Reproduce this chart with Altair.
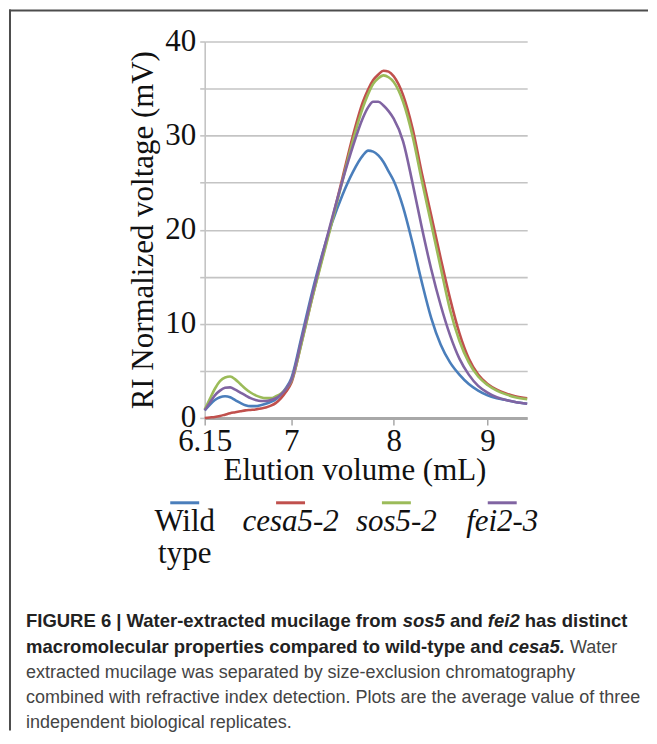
import altair as alt
import pandas as pd

# Elution volume grid (mL)
volume = [6.15, 6.2, 6.25, 6.3, 6.35, 6.4, 6.45, 6.5, 6.55, 6.6, 6.65, 6.7, 6.75, 6.8, 6.85, 6.9, 6.95, 7.0,
          7.1, 7.2, 7.3, 7.4, 7.5, 7.6, 7.7, 7.75, 7.8, 7.85, 7.9, 7.95, 8.0,
          8.1, 8.2, 8.3, 8.4, 8.5, 8.6, 8.7, 8.8, 8.9, 9.0, 9.1, 9.2, 9.3, 9.43]

wild_type = [0.8, 1.4, 1.9, 2.2, 2.3, 2.2, 1.9, 1.6, 1.35, 1.25, 1.25, 1.35, 1.5, 1.7, 2.0, 2.5, 3.2, 4.2,
             8.6, 13.2, 17.3, 20.8, 23.7, 26.1, 27.9, 28.4, 28.3, 27.9, 27.2, 26.2, 25.2,
             22.4, 18.6, 14.4, 10.6, 7.8, 5.9, 4.6, 3.6, 2.9, 2.4, 2.1, 1.9, 1.7, 1.5]

cesa5_2 = [0.0, 0.05, 0.1, 0.2, 0.35, 0.5, 0.6, 0.7, 0.8, 0.85, 0.9, 1.0, 1.1, 1.3, 1.6, 2.1, 2.8, 3.7,
           8.0, 12.6, 16.9, 21.1, 25.5, 29.9, 33.6, 34.9, 35.9, 36.5, 36.9, 36.8, 36.3,
           34.3, 30.8, 26.0, 21.5, 17.0, 12.7, 9.0, 6.3, 4.6, 3.6, 3.0, 2.6, 2.3, 2.1]

sos5_2 = [0.9, 2.0, 3.1, 3.9, 4.3, 4.4, 4.1, 3.6, 3.1, 2.7, 2.4, 2.2, 2.1, 2.1, 2.3, 2.6, 3.1, 3.9,
          7.9, 12.5, 16.7, 20.9, 25.2, 29.4, 33.0, 34.4, 35.5, 36.1, 36.4, 36.2, 35.7,
          33.6, 30.0, 25.2, 20.6, 16.0, 11.5, 8.2, 5.9, 4.4, 3.5, 2.9, 2.5, 2.2, 2.0]

fei2_3 = [0.8, 1.6, 2.4, 2.9, 3.2, 3.25, 3.0, 2.7, 2.4, 2.1, 1.9, 1.8, 1.8, 1.9, 2.1, 2.5, 3.1, 4.0,
          8.3, 12.9, 17.2, 21.3, 25.2, 28.8, 31.9, 33.0, 33.6, 33.6, 33.2, 32.6, 31.8,
          29.4, 25.0, 20.2, 15.8, 12.0, 8.8, 6.3, 4.6, 3.4, 2.7, 2.2, 1.9, 1.7, 1.5]

series_names = ["Wild type", "cesa5-2", "sos5-2", "fei2-3"]
legend_labels = ["Wild\ntype", "cesa5-2", "sos5-2", "fei2-3"]
colors = ["#4a7ebb", "#c0504d", "#9bbb59", "#8064a2"]

x_ticks = [6.15, 7, 8, 9]
y_ticks = [0, 5, 10, 15, 20, 25, 30, 35, 40]

caption_lines = [
    "FIGURE 6 | Water-extracted mucilage from ",
    "sos5",
    "and",
    "fei2",
    "has distinct",
    "macromolecular properties compared to wild-type and ",
    "cesa5.",
    "Water",
    "extracted mucilage was separated by size-exclusion chromatography",
    "combined with refractive index detection. Plots are the average value of three",
    "independent biological replicates.",
]

rows = []
for name, vals in zip(series_names, [wild_type, cesa5_2, sos5_2, fei2_3]):
    for v, y in zip(volume, vals):
        rows.append({"series": name, "volume": v, "voltage": y})
df = pd.DataFrame(rows)

SERIF = "Liberation Serif"
SANS = "Liberation Sans"
GRID = "#c4c4c4"

color_scale = alt.Scale(domain=series_names, range=colors)

lines = alt.Chart(df).mark_line(strokeWidth=2.6, interpolate="monotone").encode(
    x=alt.X("volume:Q",
            scale=alt.Scale(domain=[6.15, 7, 8, 9, 9.43], range=[0, 86.7, 189.3, 283.3, 323], nice=False, zero=False),
            axis=alt.Axis(values=x_ticks, format=".2~f", grid=False, domainColor="#a8a8a8", domainWidth=3,
                          tickColor="#a8a8a8", tickWidth=1.5, tickSize=7, labelFont=SERIF, labelFontSize=31,
                          labelColor="#111111", labelPadding=2, labelFlush=False, labelOverlap=False,
                          title="Elution volume (mL)", titleFont=SERIF, titleFontSize=31, titleFontWeight="normal",
                          titleColor="#111111", titleX=150, titleY=62, titleBaseline="alphabetic",
                          titleAlign="center", zindex=0)),
    y=alt.Y("voltage:Q",
            scale=alt.Scale(domain=[0, 40], nice=False),
            axis=alt.Axis(values=y_ticks, labelExpr="datum.value % 10 == 0 ? datum.label : ''",
                          grid=True, gridColor=GRID, gridWidth=1.6, domainColor=GRID, domainWidth=1.6,
                          tickColor=GRID, tickWidth=1.6, tickSize=5, labelPadding=4, labelFont=SERIF,
                          labelFontSize=31, labelColor="#111111", labelBaseline="middle",
                          title="RI Normalized voltage (mV)", titleFont=SERIF, titleFontSize=31,
                          titleFontWeight="normal", titleColor="#111111", titleAngle=270, titleX=-52,
                          titleY=188.5, titleBaseline="alphabetic", titleAlign="center", zindex=0)),
    color=alt.Color("series:N", scale=color_scale, legend=None),
)

legend_df = pd.DataFrame({"series": series_names, "label": legend_labels})
leg_x = alt.X("series:N", scale=alt.Scale(type="point", domain=series_names, range=[-20, 298], padding=0),
              axis=None)

leg_sym = alt.Chart(legend_df).mark_point(shape="M-1,0L1,0", size=841, filled=False, strokeWidth=3,
                                          opacity=1).encode(
    x=leg_x, y=alt.value(462), color=alt.Color("series:N", scale=color_scale, legend=None))

leg_wt = alt.Chart(legend_df).transform_filter(alt.datum.series == "Wild type").mark_text(
    font=SERIF, fontSize=31, lineBreak="\n", lineHeight=32, baseline="alphabetic", align="center",
    color="#111111").encode(x=leg_x, y=alt.value(490.5), text="label:N")

leg_mut = alt.Chart(legend_df).transform_filter(alt.datum.series != "Wild type").mark_text(
    font=SERIF, fontSize=31, fontStyle="italic", baseline="alphabetic", align="center",
    color="#111111").encode(x=leg_x, y=alt.value(490.5), text="label:N")

one = pd.DataFrame({"k": [0]})


def cap(text, x, y, bold=False, italic=False):
    kw = dict(font=SANS, fontSize=18.5 if bold else 18, align="left", baseline="alphabetic",
              color="#222222" if bold else "#444444", fontWeight="bold" if bold else "normal")
    if italic:
        kw["fontStyle"] = "italic"
    return alt.Chart(pd.DataFrame({"t": [text]})).mark_text(**kw).encode(
        text="t:N", x=alt.value(x), y=alt.value(y))


c = caption_lines
captions = [
    cap(c[0], -179, 586, bold=True),
    cap(c[1], 198.3, 586, bold=True, italic=True),
    cap(c[2], 245.6, 586, bold=True),
    cap(c[3], 283.6, 586, bold=True, italic=True),
    cap(c[4], 320.6, 586, bold=True),
    cap(c[5], -179, 612, bold=True),
    cap(c[6], 304.2, 612, bold=True, italic=True),
    cap(c[7], 365.8, 612),
    cap(c[8], -179, 637.5),
    cap(c[9], -179, 663),
    cap(c[10], -179, 688),
]

border_top = alt.Chart(one).mark_rule(color="#4d4d4d", strokeWidth=2).encode(
    x=alt.value(-196), x2=alt.value(444), y=alt.value(-31))
border_left = alt.Chart(one).mark_rule(color="#4d4d4d", strokeWidth=2).encode(
    x=alt.value(-195), y=alt.value(-32), y2=alt.value(690))

chart = alt.layer(lines, leg_sym, leg_wt, leg_mut, *captions, border_top, border_left).resolve_scale(
    x="independent"
).properties(width=323, height=377, padding=0, background="white").configure_view(stroke=None)

chart.save("out.html", embed_options={"renderer": "svg", "actions": False})
